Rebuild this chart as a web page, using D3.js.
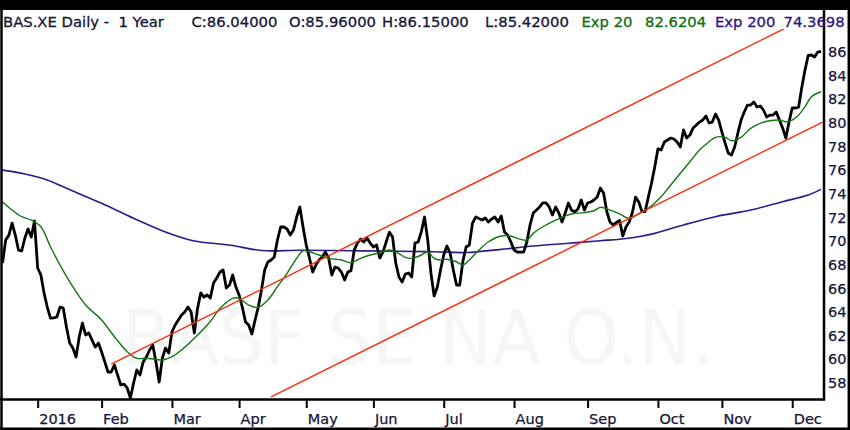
<!DOCTYPE html>
<html><head><meta charset="utf-8">
<script src="https://cdn.jsdelivr.net/npm/d3@7"></script>
<style>html,body{margin:0;padding:0;background:#fff;} svg{display:block;} text{white-space:pre;}</style>
</head><body>
<svg id="chart" width="850" height="430"></svg>
<script>
// Daily closes, one per trading bar (bar 0 = mid Dec 2015)
const closes = [
68.14,70.09,70.5,71.52,70.51,69.24,69.16,70.26,71.02,70.34,71.7,67.72,67.13,65.61,64.42,63.49,63.5,63.58,64.42,64.34,
62.73,61.38,60.96,60.20,61.89,63.07,62.06,62.23,61.63,61.04,61.38,60.62,59.78,58.93,58.93,59.52,58.68,57.83,57.9,57.58,
56.73,58.0,59.10,58.68,59.78,60.20,60.79,61.21,59.78,58.08,60.11,60.96,60.54,62.31,62.90,63.33,63.75,64.0,64.42,64.0,
62.23,64.3,65.61,65.27,65.44,65.19,66.45,66.88,67.38,67.55,66.03,66.28,67.13,66.11,65.44,64.42,63.16,62.90,62.14,63.33,
64.42,65.86,67.55,68.23,68.40,68.65,70.09,71.19,71.19,71.02,70.51,70.93,72.03,72.88,71.19,69.67,68.57,67.38,67.97,68.40,
68.65,69.07,68.57,67.13,67.81,67.72,67.38,66.71,67.38,67.5,69.24,69.83,70.17,69.92,70.26,69.83,69.50,69.67,68.57,69.07,
69.92,70.76,70.34,68.14,66.96,66.54,67.21,67.30,66.96,69.83,69.92,70.8,72.03,70.09,67.30,65.36,66.11,67.55,68.82,69.58,
68.99,67.55,66.28,66.28,68.3,69.50,69.67,71.52,72.03,71.9,71.78,71.95,71.61,71.86,72.03,71.61,72.12,70.76,70.51,69.92,
69.24,69.07,69.07,69.07,69.92,71.36,72.37,72.62,72.88,73.22,73.22,72.88,72.20,72.88,72.37,71.61,72.37,73.22,72.6,72.45,
72.71,73.47,72.62,73.22,73.30,73.47,73.72,74.48,74.06,72.5,71.61,71.36,71.57,71.74,70.43,71.19,71.61,72.4,73.72,73.30,
72.5,72.5,73.72,74.91,76.26,77.8,77.70,78.37,78.54,78.71,78.63,78.37,77.95,79.39,78.71,78.96,79.56,79.81,80.06,80.23,
80.57,79.98,80.06,80.74,80.23,79.22,78.29,77.44,77.27,77.95,79.14,80.23,80.91,81.50,81.50,81.75,81.33,81.42,81.08,80.49,
80.65,80.65,80.91,80.23,79.56,78.7,80.06,81.25,81.25,81.33,83.0,84.46,85.7,85.73,85.56,85.98,86.04
];
// Exp 20 (bar, value)
const ema20 = [
[0,73.33],[3,72.62],[6,72.06],[9,71.78],[12,71.21],[15,69.52],[18,67.97],[22,66.14],[26,64.59],[31,63.33],
[35,61.91],[39,60.65],[42,60.09],[45,60.09],[48,60.0],[50,59.94],[53,60.22],[56,60.79],[60,61.78],[65,63.2],
[68,64.3],[72,65.16],[74,65.16],[77,64.59],[80,64.39],[83,65.02],[86,66.14],[89,67.27],[92,68.54],[94,69.18],
[96,69.10],[99,68.82],[102,68.54],[106,68.40],[109,68.17],[112,68.54],[115,68.82],[118,69.01],[121,69.24],[124,68.93],
[126,68.62],[128,68.54],[131,68.82],[133,69.10],[135,68.54],[137,68.40],[139,68.46],[142,68.25],[144,67.97],[146,68.40],
[149,69.24],[152,69.94],[156,70.43],[159,70.43],[161,70.23],[164,70.09],[166,70.65],[169,71.21],[172,71.63],[175,72.01],
[178,72.29],[182,72.40],[185,72.56],[187,72.85],[190,72.62],[193,72.3],[196,71.92],[199,72.29],[202,72.77],[206,73.75],
[209,74.74],[212,75.73],[215,76.71],[218,77.70],[221,78.40],[223,78.77],[226,78.77],[228,78.48],[231,78.77],[234,79.53],
[237,79.95],[240,80.17],[243,80.23],[245,80.09],[247,80.23],[249,80.65],[251,81.36],[253,82.20],[256,82.62]
];
// Exp 200 (bar, value)
const ema200 = [
[0,76.0],[7,75.67],[14,75.16],[20,74.46],[31,73.19],[41,71.92],[52,70.65],[60,70.0],[68,69.75],[72,69.62],
[81,69.2],[93,69.22],[109,69.18],[124,69.14],[135,69.10],[145,69.03],[156,69.30],[166,69.58],[177,69.81],[187,70.03],
[193,70.15],[198,70.32],[204,70.65],[213,71.36],[223,72.06],[234,72.62],[244,73.33],[252,73.89],[256,74.37]
];
// Trend channel (bar, value)
const trendUpper = [[34,59.6],[256.5,89.57]];
const trendLower = [[84,56.82],[256.5,80.06]];
// Axis ticks
const monthTickBars = [11,31,53,74,95,116,138,160,183,205,225,247];
const monthTickLabels = ["2016","Feb","Mar","Apr","May","Jun","Jul","Aug","Sep","Oct","Nov","Dec"];
const priceTicks = [58,60,62,64,66,68,70,72,74,76,78,80,82,84,86];
// Title segments
const titleText = ["BAS.XE Daily -  1 Year","C:86.04000","O:85.96000","H:86.15000","L:85.42000","Exp 20","82.6204","Exp 200","74.3698"];
const titleX = [3,191.5,289,382,485,581.5,645,715,783.5];
const titleColor = ["#15153a","#15153a","#15153a","#15153a","#15153a","#0f6e0f","#0f6e0f","#2d1682","#2d1682"];
const watermark = "BASF SE NA O.N.";

const svg = d3.select("#chart");
const W = 850, H = 430;
const plot = {left: 2, right: 824, top: 29, bottom: 399.5};

const x = d3.scaleLinear().domain([0, 256]).range([2.5, 821]);
const y = d3.scaleLinear().domain([58, 86]).range([383, 51.8]);

svg.append("rect").attr("width", W).attr("height", H).attr("fill", "#fff");

// watermark
svg.append("text").attr("x", 122).attr("y", 364)
  .attr("textLength", 592).attr("lengthAdjust", "spacingAndGlyphs")
  .attr("font-family", "DejaVu Sans, sans-serif").attr("font-size", 74)
  .attr("fill", "#f6f6f6").text(watermark);

svg.append("clipPath").attr("id", "clip").append("rect")
  .attr("x", plot.left).attr("y", plot.top)
  .attr("width", plot.right - plot.left).attr("height", plot.bottom - plot.top);

const g = svg.append("g").attr("clip-path", "url(#clip)");

const lineC = d3.line().x((d, i) => x(i)).y(d => y(d));
const lineP = d3.line().x(d => x(d[0])).y(d => y(d[1]));
const lineS = d3.line().x(d => x(d[0])).y(d => y(d[1])).curve(d3.curveCatmullRom.alpha(0.5));

g.append("path").datum(ema200).attr("d", lineS).attr("fill", "none")
  .attr("stroke", "#2e1a8a").attr("stroke-width", 1.6);
g.append("path").datum(closes).attr("d", lineC).attr("fill", "none")
  .attr("stroke", "#000").attr("stroke-width", 2.8).attr("stroke-linejoin", "round");
g.append("path").datum(ema20).attr("d", lineS).attr("fill", "none")
  .attr("stroke", "#157515").attr("stroke-width", 1.4);
[trendUpper, trendLower].forEach(t => {
  g.append("path").datum(t).attr("d", lineP).attr("fill", "none")
    .attr("stroke", "#ff2a0a").attr("stroke-width", 1.4);
});

// top black band
svg.append("rect").attr("x", 0).attr("y", 0).attr("width", W).attr("height", 10).attr("fill", "#000");

// frames
const frame = svg.append("g").attr("stroke", "#000").attr("fill", "none");
frame.append("line").attr("x1", 1.5).attr("x2", 1.5).attr("y1", 10).attr("y2", 429).attr("stroke-width", 2.5);
frame.append("line").attr("x1", 0).attr("x2", 850).attr("y1", 428.7).attr("y2", 428.7).attr("stroke-width", 2.5);
frame.append("line").attr("x1", 848.8).attr("x2", 848.8).attr("y1", 10).attr("y2", 430).attr("stroke-width", 2.5);
frame.append("line").attr("x1", plot.right).attr("x2", plot.right).attr("y1", 10).attr("y2", plot.bottom + 1).attr("stroke-width", 2.5);
frame.append("line").attr("x1", 0).attr("x2", plot.right + 1).attr("y1", plot.bottom).attr("y2", plot.bottom).attr("stroke-width", 2.5);

// bottom axis
const xAxis = d3.axisBottom(x).tickValues(monthTickBars)
  .tickFormat((d, i) => monthTickLabels[i]).tickSize(8.5).tickPadding(0);
const gx = svg.append("g").attr("transform", `translate(0,${plot.bottom})`).call(xAxis);
gx.select(".domain").remove();
gx.selectAll(".tick line").attr("stroke", "#000").attr("stroke-width", 2);
gx.selectAll(".tick text").attr("text-anchor", "start").attr("x", 1).attr("y", 24.5).attr("dy", 0)
  .attr("fill", "#15153a").attr("font-size", 14.5).attr("font-family", "DejaVu Sans, sans-serif")
  .attr("stroke", "#15153a").attr("stroke-width", 0.25);

// right axis
const yAxis = d3.axisRight(y).tickValues(priceTicks).tickSize(0).tickPadding(4);
const gy = svg.append("g").attr("transform", `translate(${plot.right},0)`).call(yAxis);
gy.select(".domain").remove();
gy.selectAll(".tick text").attr("fill", "#15153a").attr("font-size", 14.5)
  .attr("font-family", "DejaVu Sans, sans-serif")
  .attr("stroke", "#15153a").attr("stroke-width", 0.25);

// title
const title = svg.append("text").attr("y", 27).attr("font-family", "DejaVu Sans, sans-serif")
  .attr("font-size", 14.8).attr("xml:space", "preserve");
titleText.forEach((t, i) => {
  title.append("tspan").attr("x", titleX[i]).attr("fill", titleColor[i])
    .attr("stroke", titleColor[i]).attr("stroke-width", 0.3).text(t);
});
</script>
</body></html>
